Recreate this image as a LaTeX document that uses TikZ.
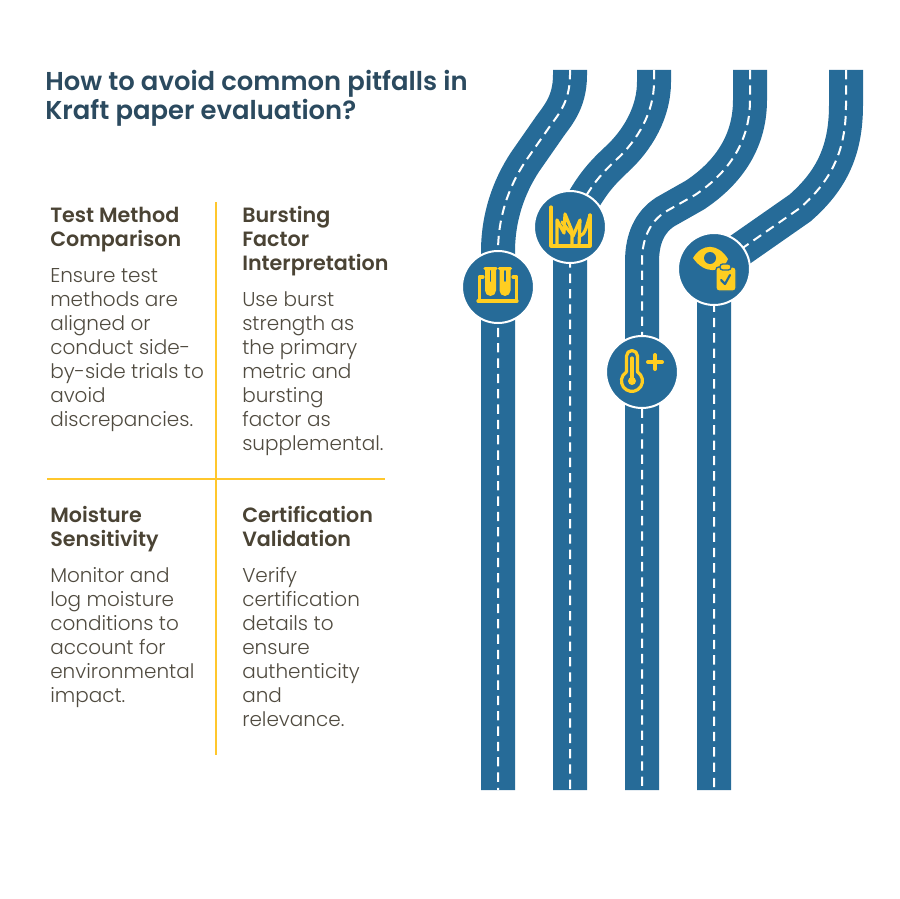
\documentclass[tikz,border=0pt]{standalone}
\usepackage{fontspec}
\usepackage{tikz}
\setmainfont{Poppins Light}
\newfontfamily\headfont{Poppins SemiBold}
\definecolor{roadblue}{HTML}{266B98}
\definecolor{signyellow}{HTML}{FFCE21}
\definecolor{ruleyellow}{HTML}{FFC72C}
\definecolor{titleink}{HTML}{2B4A5F}
\definecolor{headink}{HTML}{4A4334}
\definecolor{bodyink}{HTML}{504B40}

\begin{document}
\begin{tikzpicture}[
            x=0.75pt, y=-0.75pt,
            road/.style={line width=25.5pt, color=roadblue, postaction={draw=white, line width=1.5pt, dash pattern=on 7pt off 4.5pt}},
            stopcircle/.style={circle, draw=white, line width=1.5pt, fill=roadblue, minimum size=54pt, inner sep=0pt},
            rule/.style={line width=1.5pt, color=ruleyellow},
            title text/.style={anchor=north west, align=left, inner sep=0pt, text=titleink, font=\headfont\fontsize{19.4}{21.75}\selectfont},
            head text/.style={anchor=north west, align=left, inner sep=0pt, text=headink, font=\headfont\fontsize{15.5}{18}\selectfont},
            body text/.style={anchor=north west, align=left, inner sep=0pt, text=bodyink, font=\fontsize{15}{18}\selectfont},
            icon line/.style={draw=signyellow, line width=2.4pt, line cap=round, line join=round},
            icon fill/.style={fill=signyellow},
            icon cut/.style={draw=roadblue, line width=1.3pt, line cap=round, line join=round}
            ]
            \useasboundingbox (0,0) rectangle (900,899);

            % roads
            \draw[road] (570,70) -- (570,75) .. controls (570,104) and (556,117) .. (548,129) -- (525,162) .. controls (508,188) and (498,218) .. (498,252) -- (498,790);
            \draw[road] (654,70) -- (654,82) .. controls (654,112) and (638,140) .. (616,160) .. controls (600,175) and (588,188) .. (570,226) -- (570,790);
            \draw[road] (750,70) -- (750,100) .. controls (750,145) and (725,175) .. (695,195) -- (665,212) .. controls (650,222) and (642,238) .. (642,262) -- (642,790);
            \draw[road] (846,70) -- (846,105) .. controls (846,150) and (832,180) .. (800,208) -- (714,268) -- (714,790);

            % stops
            \node[stopcircle] (tubes) at (498,287) {};
            \node[stopcircle] (plant) at (570,227) {};
            \node[stopcircle] (thermo) at (642,372) {};
            \node[stopcircle] (check) at (714,269) {};

            % test tubes
            \draw[icon line] (478,301) -- (517,301);
            \draw[icon line] (483,277) -- (479.5,277) -- (479.5,301);
            \draw[icon line] (513,277) -- (516.5,277) -- (516.5,301);
            \fill[icon fill] (485,269) -- (496,269) -- (496,290.5) arc (0:180:5.5) -- cycle;
            \fill[icon fill] (499.5,269) -- (510.5,269) -- (510.5,290.5) arc (0:180:5.5) -- cycle;
            \draw[icon line] (485,268.5) -- (496,268.5);
            \draw[icon line] (499.5,268.5) -- (510.5,268.5);
            \draw[icon cut] (490.5,271) -- (490.5,281);
            \draw[icon cut] (505,271) -- (505,281);

            % chart
            \draw[icon line] (551,207) -- (551,246) -- (590,246) -- (590,215);
            \draw[icon line] (557,246) -- (557,220) -- (564,233) -- (565,214) -- (572,231) -- (572,246);
            \draw[icon line] (562,222) -- (573,236) -- (580,220) -- (579,246);
            \draw[icon line] (580,236) .. controls (585,235) and (587,225) .. (590,215);

            % thermometer
            \draw[icon line] (626.5,372) -- (626.5,356) arc (180:360:5.5) -- (637.5,372) arc (-58:238:10.5);
            \draw[icon line] (632,358) -- (632,380);
            \fill[icon fill] (632,381) circle[radius=4];
            \draw[icon line, line width=3pt] (648,362) -- (662,362);
            \draw[icon line, line width=3pt] (655,355) -- (655,369);

            % eye and clipboard
            \fill[icon fill] (693,258) .. controls (702,243) and (718,243) .. (728,259) .. controls (722,274) and (704,274) .. (693,258) -- cycle;
            \fill[roadblue] (710,258) circle[radius=6];
            \fill[icon fill, draw=roadblue, line width=1pt, rounded corners=2pt] (716,267) rectangle (736,291);
            \fill[icon fill, draw=roadblue, line width=1pt, rounded corners=2pt] (720,264) rectangle (731,270);
            \draw[icon cut, line width=1.6pt] (721,280) -- (725,284) -- (730,275);

            % rules
            \draw[rule] (216,202) -- (216,755);
            \draw[rule] (47,479) -- (385,479);

            % texts
            \node[title text] (title) at (45,70) {How to avoid common pitfalls in\\Kraft paper evaluation?};

            \node[head text] (methodhead) at (50,207) {Test Method\\Comparison};
            \node[body text] (methodbody) at (50,268) {Ensure test\\methods are\\aligned or\\conduct side-\\by-side trials to\\avoid\\discrepancies.};

            \node[head text] (bursthead) at (242,206) {Bursting\\Factor\\Interpretation};
            \node[body text] (burstbody) at (242,291) {Use burst\\strength as\\the primary\\metric and\\bursting\\factor as\\supplemental.};

            \node[head text] (moisthead) at (50,506) {Moisture\\Sensitivity};
            \node[body text] (moistbody) at (50,567) {Monitor and\\log moisture\\conditions to\\account for\\environmental\\impact.};

            \node[head text] (certhead) at (242,506) {Certification\\Validation};
            \node[body text] (certbody) at (242,567) {Verify\\certification\\details to\\ensure\\authenticity\\and\\relevance.};

\end{tikzpicture}
\end{document}
